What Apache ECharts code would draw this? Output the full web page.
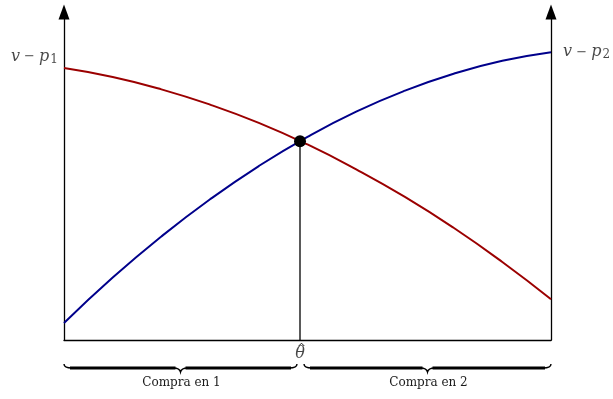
<!DOCTYPE html>
<html><head><meta charset="utf-8">
<script src="https://cdn.jsdelivr.net/npm/echarts@6/dist/echarts.min.js"></script>
<style>html,body{margin:0;padding:0;background:#fff}#c{width:613px;height:399px}</style>
</head><body><div id="c"></div>
<script>
// theta positions (fraction of the axis)
const thetaX = [0, 0.1, 0.2, 0.3, 0.4, 0.5, 0.6, 0.7, 0.8, 0.9, 1.0];
// utility buying from firm 1 (red) and firm 2 (blue)
const redY  = [81.9, 79.2, 75.5, 70.9, 65.4, 58.9, 51.4, 43.1, 33.8, 23.5, 12.3];
const blueY = [5.1, 18.8, 31.2, 42.4, 52.4, 61.2, 68.8, 75.1, 80.2, 84.1, 86.7];
// indifferent consumer
const thetaHat = 0.4846;
const thetaHatY = 59.9;
// braces and their labels
const braceRanges = [[0, 0.4846], [0.4846, 1]];
const braceLabels = ['Compra en 1', 'Compra en 2'];
const leftSub = '1';
const rightSub = '2';

const serif = '"DejaVu Serif", serif';

const chart = echarts.init(document.getElementById('c'));
chart.setOption({
  animation: false,
  grid: {left: 64, right: 62, top: 12, bottom: 59, containLabel: false},
  xAxis: {type: 'value', min: 0, max: 1, axisLine: {show: true, onZero: false, lineStyle: {color: '#000', width: 1.3}},
    axisTick: {show: false}, axisLabel: {show: false}, splitLine: {show: false}},
  yAxis: [
    {type: 'value', min: 0, max: 98.8, position: 'left',
      axisLine: {show: true, symbol: ['none', 'triangle'], symbolSize: [11, 15], lineStyle: {color: '#000', width: 1.3}},
      axisTick: {show: false}, axisLabel: {show: false}, splitLine: {show: false}},
    {type: 'value', min: 0, max: 98.8, position: 'right',
      axisLine: {show: true, symbol: ['none', 'triangle'], symbolSize: [11, 15], lineStyle: {color: '#000', width: 1.3}},
      axisTick: {show: false}, axisLabel: {show: false}, splitLine: {show: false}}
  ],
  series: [
    {type: 'line', smooth: true, showSymbol: false, data: thetaX.map((x, i) => [x, redY[i]]),
      lineStyle: {color: '#9b0000', width: 2}, z: 3},
    {type: 'line', smooth: true, showSymbol: false, data: thetaX.map((x, i) => [x, blueY[i]]),
      lineStyle: {color: '#00008b', width: 2}, z: 3},
    {type: 'line', showSymbol: false, data: [[thetaHat, 0], [thetaHat, thetaHatY]],
      lineStyle: {color: '#000', width: 1.3}, z: 2},
    {type: 'scatter', symbolSize: 12, itemStyle: {color: '#000', opacity: 1}, data: [[thetaHat, thetaHatY]], z: 5},
    {type: 'scatter', symbolSize: 0.01, itemStyle: {color: 'transparent'}, z: 6,
      data: [
        {value: [0, redY[0]], label: {show: true, position: 'left', distance: 6, offset: [0, -11],
          formatter: '{v|v}{m| − }{v|p}{s|' + leftSub + '}'}},
        {value: [1, blueY[blueY.length - 1]], label: {show: true, position: 'right', distance: 12, offset: [0, 0],
          formatter: '{v|v}{m| − }{v|p}{s|' + rightSub + '}'}},
        {value: [thetaHat, 0], label: {show: true, position: 'bottom', distance: 6,
          formatter: '{t|θ}'}}
      ],
      label: {color: '#1a1a1a', rich: {
        v: {fontFamily: serif, fontStyle: 'italic', fontSize: 16, color: '#1a1a1a'},
        m: {fontFamily: serif, fontSize: 13, color: '#1a1a1a'},
        s: {fontFamily: serif, fontSize: 12, color: '#1a1a1a', verticalAlign: 'bottom', padding: [6, 0, 0, 1]},
        t: {fontFamily: serif, fontStyle: 'italic', fontSize: 16, color: '#1a1a1a'}
      }}
    },
    {type: 'custom', clip: false, z: 4,
      data: braceRanges.map((r, i) => [r[0], r[1], i]),
      renderItem: function (params, api) {
        const a = api.coord([api.value(0), 0]);
        const b = api.coord([api.value(1), 0]);
        const idx = api.value(2);
        const x0 = a[0] + (idx === 1 ? 4 : 0);
        const x1 = b[0] - (idx === 0 ? 3 : 0);
        const y0 = a[1] + 28;
        const xm = (x0 + x1) / 2;
        const thin = 'M' + x0 + ' ' + (y0 - 4) + ' Q' + x0 + ' ' + y0 + ' ' + (x0 + 8) + ' ' + y0 +
          ' M' + (xm - 7) + ' ' + y0 + ' Q' + (xm - 1) + ' ' + y0 + ' ' + xm + ' ' + (y0 + 4) +
          ' Q' + (xm + 1) + ' ' + y0 + ' ' + (xm + 7) + ' ' + y0 +
          ' M' + (x1 - 8) + ' ' + y0 + ' Q' + x1 + ' ' + y0 + ' ' + x1 + ' ' + (y0 - 4);
        const thick = 'M' + (x0 + 6) + ' ' + y0 + ' L' + (xm - 5) + ' ' + y0 +
          ' M' + (xm + 5) + ' ' + y0 + ' L' + (x1 - 6) + ' ' + y0;
        const children = [
          {type: 'path', shape: {pathData: thin}, style: {stroke: '#000', lineWidth: 1.4, fill: null}},
          {type: 'path', shape: {pathData: thick}, style: {stroke: '#000', lineWidth: 3, fill: null}},
          {type: 'text', style: {text: braceLabels[idx], x: xm + 1, y: y0 + 15, align: 'center', verticalAlign: 'middle',
            font: '12px ' + serif, fill: '#1a1a1a'}}
        ];
        if (idx === 0) {
          const hx = b[0] + 1.5, hy = b[1] + 6;
          children.push({type: 'path', shape: {pathData: 'M' + (hx - 2.8) + ' ' + (hy) + ' L' + hx + ' ' + (hy - 2.8) + ' L' + (hx + 2.8) + ' ' + hy},
            style: {stroke: '#1a1a1a', lineWidth: 1, fill: null}});
        }
        return {type: 'group', children: children};
      }
    }
  ]
});
</script></body></html>
